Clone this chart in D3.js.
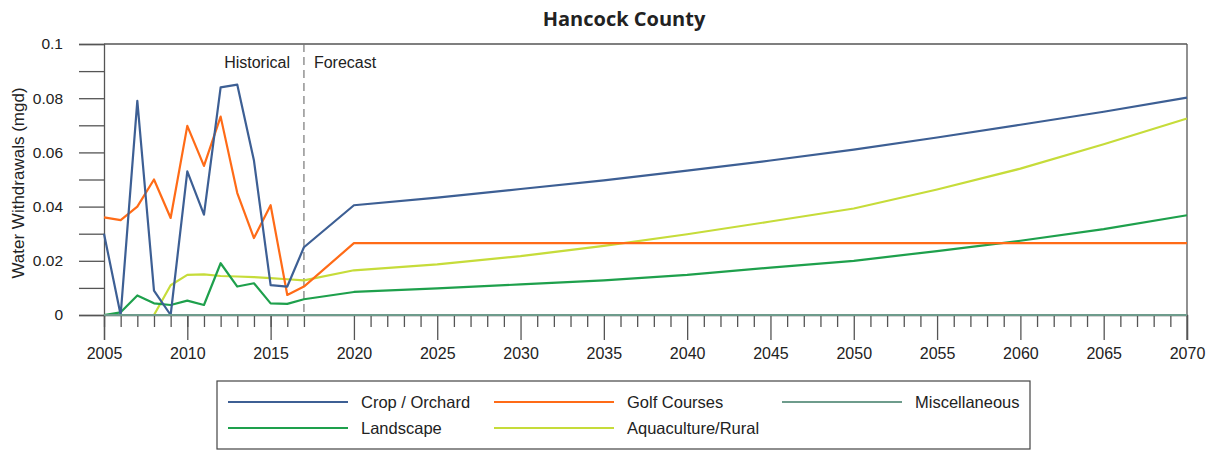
<!DOCTYPE html>
<html>
<head>
<meta charset="utf-8">
<script src="https://cdn.jsdelivr.net/npm/d3@7"></script>
<style>
  html, body { margin: 0; padding: 0; background: #fff; }
  svg { display: block; }
  text { font-family: "Liberation Sans", Arial, sans-serif; fill: #222; }
</style>
</head>
<body>
<svg id="chart" width="1215" height="451"></svg>
<script>
// ---------------- DATA ----------------
const title = "Hancock County";
const yAxisTitle = "Water Withdrawals (mgd)";
const years = [2005, 2006, 2007, 2008, 2009, 2010, 2011, 2012, 2013, 2014, 2015, 2016, 2017,
               2020, 2025, 2030, 2035, 2040, 2045, 2050, 2055, 2060, 2065, 2070];
const cropOrchard = [0.030, 0.000, 0.079, 0.009, 0.000, 0.053, 0.037, 0.084, 0.085, 0.057, 0.011, 0.0105, 0.025,
                     0.0405, 0.0433, 0.0465, 0.0497, 0.0533, 0.0570, 0.0610, 0.0655, 0.0702, 0.0750, 0.0802];
const golfCourses = [0.036, 0.035, 0.040, 0.050, 0.0358, 0.0698, 0.055, 0.0732, 0.045, 0.0284, 0.0405, 0.0074, 0.0105,
                     0.0265, 0.0265, 0.0265, 0.0265, 0.0265, 0.0265, 0.0265, 0.0265, 0.0265, 0.0265, 0.0265];
const miscellaneous = [0, 0, 0, 0, 0, 0, 0, 0, 0, 0, 0, 0, 0,
                       0, 0, 0, 0, 0, 0, 0, 0, 0, 0, 0];
const landscape = [0.000, 0.001, 0.0072, 0.0043, 0.0037, 0.0053, 0.0037, 0.0191, 0.0105, 0.0117, 0.0043, 0.0041, 0.0058,
                   0.0085, 0.0098, 0.0113, 0.0128, 0.0148, 0.0175, 0.0200, 0.0236, 0.0274, 0.0317, 0.0368];
const aquacultureRural = [0, 0, 0, 0, 0.011, 0.0148, 0.015, 0.0144, 0.0142, 0.0140, 0.0136, 0.0132, 0.0128,
                          0.0165, 0.0187, 0.0217, 0.0255, 0.0298, 0.0345, 0.0393, 0.0463, 0.0540, 0.0630, 0.0725];
const seriesNames = ["Crop / Orchard", "Golf Courses", "Miscellaneous", "Landscape", "Aquaculture/Rural"];
const seriesColors = ["#3d5f94", "#ff6b17", "#6e9c8c", "#1ea04c", "#c6dc3a"];
const xMajorTicks = [2005, 2010, 2015, 2020, 2025, 2030, 2035, 2040, 2045, 2050, 2055, 2060, 2065, 2070];
const yTicks = [0, 0.02, 0.04, 0.06, 0.08, 0.1];
const yTickLabels = ["0", "0.02", "0.04", "0.06", "0.08", "0.1"];
const yMinorTicks = [0.01, 0.03, 0.05, 0.07, 0.09];
const forecastStart = 2017;
const periodLabels = ["Historical", "Forecast"];

// ---------------- LAYOUT ----------------
const svg = d3.select("#chart");
const x = d3.scaleLinear().domain([2005, 2070]).range([104, 1187]);
const y = d3.scaleLinear().domain([0, 0.1]).range([315, 44]);
const axisColor = "#555";

// Title
svg.append("text").attr("x", 624).attr("y", 26).attr("text-anchor", "middle")
  .style("font-family", "'Open Sans', sans-serif").style("font-weight", 700).style("font-size", "20px")
  .text(title);

// Y axis title
svg.append("text").attr("transform", "translate(24,183) rotate(-90)")
  .attr("text-anchor", "middle").style("font-size", "17px").text(yAxisTitle);

// Frame (top & right)
svg.append("line").attr("x1", x(2005)).attr("x2", x(2070)).attr("y1", y(0.1)).attr("y2", y(0.1))
  .attr("stroke", axisColor).attr("stroke-width", 1.3);
svg.append("line").attr("x1", x(2070)).attr("x2", x(2070)).attr("y1", y(0.1)).attr("y2", y(0) + 25)
  .attr("stroke", axisColor).attr("stroke-width", 1.3);

// Y axis
const yAxis = svg.append("g").attr("transform", `translate(${x(2005)},0)`)
  .call(d3.axisLeft(y).tickValues(yTicks).tickSize(25).tickPadding(16)
    .tickFormat((d, i) => yTickLabels[i]));
svg.append("g").attr("transform", `translate(${x(2005)},0)`)
  .call(d3.axisLeft(y).tickValues(yMinorTicks).tickSize(25).tickFormat(""))
  .call(g => g.select(".domain").remove());

// X axis
const xAxis = svg.append("g").attr("transform", `translate(0,${y(0)})`)
  .call(d3.axisBottom(x).tickValues(xMajorTicks).tickSize(25).tickPadding(8).tickFormat(d3.format("d")));
svg.append("g").attr("transform", `translate(0,${y(0)})`)
  .call(d3.axisBottom(x).tickValues(years.filter(v => v < 2020).concat(d3.range(2021, 2070).filter(v => v % 5 !== 0)))
    .tickSize(12).tickFormat(""))
  .call(g => g.select(".domain").remove());

svg.selectAll(".tick line, .domain").attr("stroke", axisColor).attr("stroke-width", 1.3);
svg.selectAll(".tick text").style("font-family", "'Liberation Sans', Arial, sans-serif").attr("fill", "#222");
yAxis.selectAll(".tick text").style("font-size", "15.5px");
xAxis.selectAll(".tick text").style("font-size", "16px");

// Forecast divider
svg.append("line").attr("x1", x(forecastStart)).attr("x2", x(forecastStart))
  .attr("y1", y(0.1)).attr("y2", y(0))
  .attr("stroke", "#777").attr("stroke-width", 1.2).attr("stroke-dasharray", "8,5");
svg.append("text").attr("x", x(forecastStart) - 14).attr("y", 68).attr("text-anchor", "end")
  .style("font-size", "16px").text(periodLabels[0]);
svg.append("text").attr("x", x(forecastStart) + 10).attr("y", 68).attr("text-anchor", "start")
  .style("font-size", "16px").text(periodLabels[1]);

// Lines
const seriesValues = [cropOrchard, golfCourses, miscellaneous, landscape, aquacultureRural];
const line = d3.line().x(d => x(d[0])).y(d => y(d[1]));
const drawOrder = [4, 3, 1, 0, 2];
drawOrder.forEach(i => {
  svg.append("path")
    .datum(years.map((yr, j) => [yr, seriesValues[i][j]]))
    .attr("fill", "none").attr("stroke", seriesColors[i])
    .attr("stroke-width", 2.2).attr("stroke-linejoin", "round")
    .attr("d", line);
});

// Legend
const legend = svg.append("g");
legend.append("rect").attr("x", 217).attr("y", 381).attr("width", 813).attr("height", 68)
  .attr("fill", "#fff").attr("stroke", "#444").attr("stroke-width", 1.2);
const legendCols = [228, 494, 782];
const legendRows = [402, 428];
seriesNames.forEach((name, i) => {
  const cx = legendCols[i % 3], cy = legendRows[Math.floor(i / 3)];
  legend.append("line").attr("x1", cx).attr("x2", cx + 120).attr("y1", cy).attr("y2", cy)
    .attr("stroke", seriesColors[i]).attr("stroke-width", 2.2);
  legend.append("text").attr("x", cx + 133).attr("y", cy).attr("dy", "0.36em")
    .style("font-size", "16.5px").text(name);
});
</script>
</body>
</html>
